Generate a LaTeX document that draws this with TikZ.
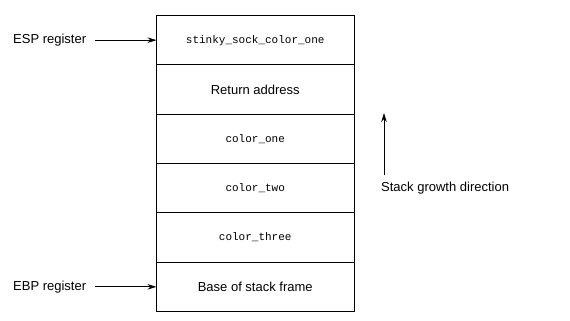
\documentclass[tikz,border=0pt]{standalone}
\usepackage{fontspec}
\setmainfont{Liberation Sans}
\setmonofont{Liberation Mono}
\usetikzlibrary{positioning, arrows.meta}

\begin{document}
\begin{tikzpicture}[
  x=1pt, y=1pt,
  font=\fontsize{13}{15}\selectfont,
  >={Stealth[length=9pt, width=5.5pt]},
  cell/.style={draw, line width=1pt, minimum width=197.5pt, minimum height=49.33pt,
               inner sep=0pt, outer sep=0pt, anchor=north},
  code/.style={font=\fontsize{11}{12}\selectfont\ttfamily},
  lbl/.style={inner sep=2pt},
  arr/.style={->, line width=1pt}
]
  \useasboundingbox (0,0) rectangle (570,321);

  % the stack frame, top to bottom
  \node[cell, code]             (s1) at (255.25,305.5) {stinky\_sock\_color\_one};
  \node[cell, below=0pt of s1]  (s2) {Return address};
  \node[cell, code, below=0pt of s2] (s3) {color\_one};
  \node[cell, code, below=0pt of s3] (s4) {color\_two};
  \node[cell, code, below=0pt of s4] (s5) {color\_three};
  \node[cell, below=0pt of s5]  (s6) {Base of stack frame};

  % register pointers
  \node[lbl, anchor=west] (esp) at (s1.west -| 11,0) {ESP register};
  \node[lbl, anchor=west] (ebp) at (s6.west -| 11,0) {EBP register};
  \draw[arr, shorten <=7pt] (esp.east) -- (s1.west);
  \draw[arr, shorten <=7pt] (ebp.east) -- (s6.west);

  % growth direction
  \coordinate (gtail) at (384,146);
  \coordinate (ghead) at (384,208);
  \draw[arr] (gtail) -- (ghead);
  \node[lbl, anchor=west] (grow) at (379,133) {Stack growth direction};
\end{tikzpicture}
\end{document}
